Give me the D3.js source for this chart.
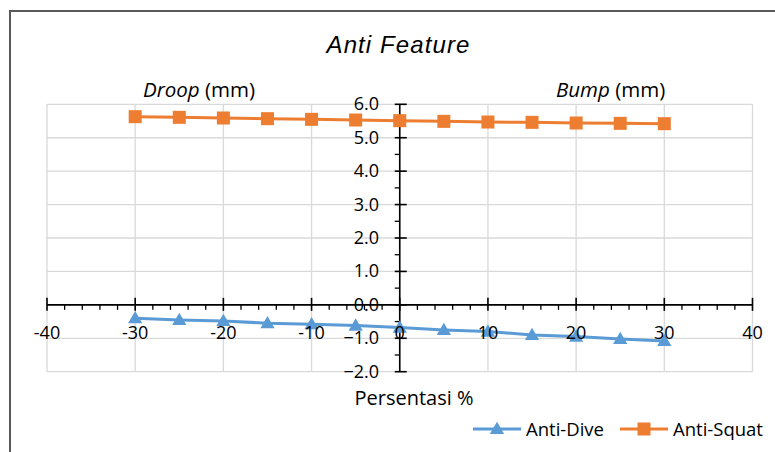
<!DOCTYPE html>
<html>
<head>
<meta charset="utf-8">
<script src="https://cdn.jsdelivr.net/npm/d3@7"></script>
<style>
  body { margin: 0; background: #fff; }
  svg text { font-family: "Open Sans", sans-serif; fill: #000; }
</style>
</head>
<body>
<div id="d3"></div>
<script>
// chart data
const percent = [-30, -25, -20, -15, -10, -5, 0, 5, 10, 15, 20, 25, 30];
const antiDive = [-0.40, -0.45, -0.48, -0.55, -0.58, -0.62, -0.68, -0.75, -0.80, -0.90, -0.95, -1.02, -1.08];
const antiSquat = [5.63, 5.61, 5.59, 5.57, 5.55, 5.53, 5.51, 5.49, 5.47, 5.46, 5.44, 5.43, 5.42];
const xTicks = [-40, -30, -20, -10, 0, 10, 20, 30, 40];
const yTicks = [-2, -1, 0, 1, 2, 3, 4, 5, 6];
const seriesNames = ["Anti-Dive", "Anti-Squat"];

const width = 775;
const height = 452;
const blue = "#5b9bd5";
const orange = "#ed7d31";

const svg = d3
  .select("#d3")
  .append("svg")
  .attr("width", width)
  .attr("height", height);

// chart border (runs off the right and bottom edge)
svg
  .append("rect")
  .attr("x", 10)
  .attr("y", 11)
  .attr("width", 820)
  .attr("height", 500)
  .attr("fill", "none")
  .attr("stroke", "#595959")
  .attr("stroke-width", 2);

const x = d3.scaleLinear().domain([-40, 40]).range([47, 752.5]);
const y = d3.scaleLinear().domain([-2, 6]).range([371.7, 104.3]);

// gridlines
svg
  .append("g")
  .selectAll("line")
  .data(yTicks)
  .enter()
  .append("line")
  .attr("x1", x(-40))
  .attr("x2", x(40))
  .attr("y1", (d) => y(d))
  .attr("y2", (d) => y(d))
  .attr("stroke", "#d9d9d9")
  .attr("stroke-width", 1.3);

svg
  .append("g")
  .selectAll("line")
  .data(xTicks)
  .enter()
  .append("line")
  .attr("x1", (d) => x(d))
  .attr("x2", (d) => x(d))
  .attr("y1", y(6))
  .attr("y2", y(-2))
  .attr("stroke", "#d9d9d9")
  .attr("stroke-width", 1.3);

// x axis through y = 0
const xMinor = d3.range(-40, 40.01, 2).filter((d) => d % 10 !== 0);
const xAxis = svg.append("g").attr("transform", "translate(0," + y(0) + ")");
xAxis
  .append("line")
  .attr("x1", x(-40))
  .attr("x2", x(40))
  .attr("stroke", "#000")
  .attr("stroke-width", 1.6);
xAxis
  .selectAll(".minor")
  .data(xMinor)
  .enter()
  .append("line")
  .attr("x1", (d) => x(d))
  .attr("x2", (d) => x(d))
  .attr("y1", 0)
  .attr("y2", 5)
  .attr("stroke", "#000")
  .attr("stroke-width", 1.3);
xAxis
  .selectAll(".major")
  .data(xTicks)
  .enter()
  .append("line")
  .attr("x1", (d) => x(d))
  .attr("x2", (d) => x(d))
  .attr("y1", -7)
  .attr("y2", 6)
  .attr("stroke", "#000")
  .attr("stroke-width", 1.6);

// y axis through x = 0
const yMinor = d3.range(-2, 6.01, 0.5).filter((d) => d % 1 !== 0);
const yAxis = svg.append("g").attr("transform", "translate(" + x(0) + ",0)");
yAxis
  .append("line")
  .attr("y1", y(6))
  .attr("y2", y(-2))
  .attr("stroke", "#000")
  .attr("stroke-width", 1.6);
yAxis
  .selectAll(".minor")
  .data(yMinor)
  .enter()
  .append("line")
  .attr("x1", -5)
  .attr("x2", 0)
  .attr("y1", (d) => y(d))
  .attr("y2", (d) => y(d))
  .attr("stroke", "#000")
  .attr("stroke-width", 1.3);
yAxis
  .selectAll(".major")
  .data(yTicks)
  .enter()
  .append("line")
  .attr("x1", -5)
  .attr("x2", 7)
  .attr("y1", (d) => y(d))
  .attr("y2", (d) => y(d))
  .attr("stroke", "#000")
  .attr("stroke-width", 1.6);

// series
const line = d3
  .line()
  .x((d) => x(d[0]))
  .y((d) => y(d[1]));

const triangle = d3.symbol().type(d3.symbolTriangle).size(88);

function drawSeries(values, color, marker) {
  const pts = percent.map((p, i) => [p, values[i]]);
  svg
    .append("path")
    .datum(pts)
    .attr("d", line)
    .attr("fill", "none")
    .attr("stroke", color)
    .attr("stroke-width", 3);
  const g = svg.append("g");
  if (marker === "square") {
    g.selectAll("rect")
      .data(pts)
      .enter()
      .append("rect")
      .attr("x", (d) => x(d[0]) - 6.5)
      .attr("y", (d) => y(d[1]) - 6.5)
      .attr("width", 13)
      .attr("height", 13)
      .attr("fill", color);
  } else {
    g.selectAll("path")
      .data(pts)
      .enter()
      .append("path")
      .attr("d", triangle)
      .attr("transform", (d) => "translate(" + x(d[0]) + "," + (y(d[1]) + 1) + ")")
      .attr("fill", color);
  }
}

drawSeries(antiDive, blue, "triangle");
drawSeries(antiSquat, orange, "square");

// tick labels on top
svg
  .append("g")
  .selectAll("text")
  .data(xTicks)
  .enter()
  .append("text")
  .attr("x", (d) => x(d))
  .attr("y", y(0) + 34)
  .attr("text-anchor", "middle")
  .style("font-size", "18px")
  .text((d) => d);

svg
  .append("g")
  .selectAll("text")
  .data(yTicks)
  .enter()
  .append("text")
  .attr("x", 379)
  .attr("y", (d) => y(d) + 6)
  .attr("text-anchor", "end")
  .style("font-size", "18px")
  .text((d) => d3.format(".1f")(d));

// titles
svg
  .append("text")
  .attr("x", 398.5)
  .attr("y", 53)
  .attr("text-anchor", "middle")
  .style("font-family", "'Liberation Sans', Arial, sans-serif")
  .style("font-style", "italic")
  .style("font-size", "24px")
  .style("letter-spacing", "1.1px")
  .text("Anti Feature");

function sideLabel(xPos, word) {
  const t = svg
    .append("text")
    .attr("x", xPos)
    .attr("y", 97)
    .style("font-size", "20.5px");
  t.append("tspan").style("font-style", "italic").text(word);
  t.append("tspan").text(" (mm)");
}
sideLabel(143, "Droop");
sideLabel(556, "Bump");

svg
  .append("text")
  .attr("x", 414)
  .attr("y", 405)
  .attr("text-anchor", "middle")
  .style("font-size", "20px")
  .text("Persentasi %");

// legend
const legend = [
  { name: seriesNames[0], color: blue, marker: "triangle", x0: 473 },
  { name: seriesNames[1], color: orange, marker: "square", x0: 620 },
];
const ly = 429;
legend.forEach((l) => {
  const g = svg.append("g");
  g.append("line")
    .attr("x1", l.x0)
    .attr("x2", l.x0 + 48)
    .attr("y1", ly)
    .attr("y2", ly)
    .attr("stroke", l.color)
    .attr("stroke-width", 3);
  if (l.marker === "square") {
    g.append("rect")
      .attr("x", l.x0 + 24 - 6.5)
      .attr("y", ly - 6.5)
      .attr("width", 13)
      .attr("height", 13)
      .attr("fill", l.color);
  } else {
    g.append("path")
      .attr("d", triangle)
      .attr("transform", "translate(" + (l.x0 + 24) + "," + (ly + 1) + ")")
      .attr("fill", l.color);
  }
  g.append("text")
    .attr("x", l.x0 + 53)
    .attr("y", ly + 6.5)
    .style("font-size", "18.5px")
    .text(l.name);
});
</script>
</body>
</html>
